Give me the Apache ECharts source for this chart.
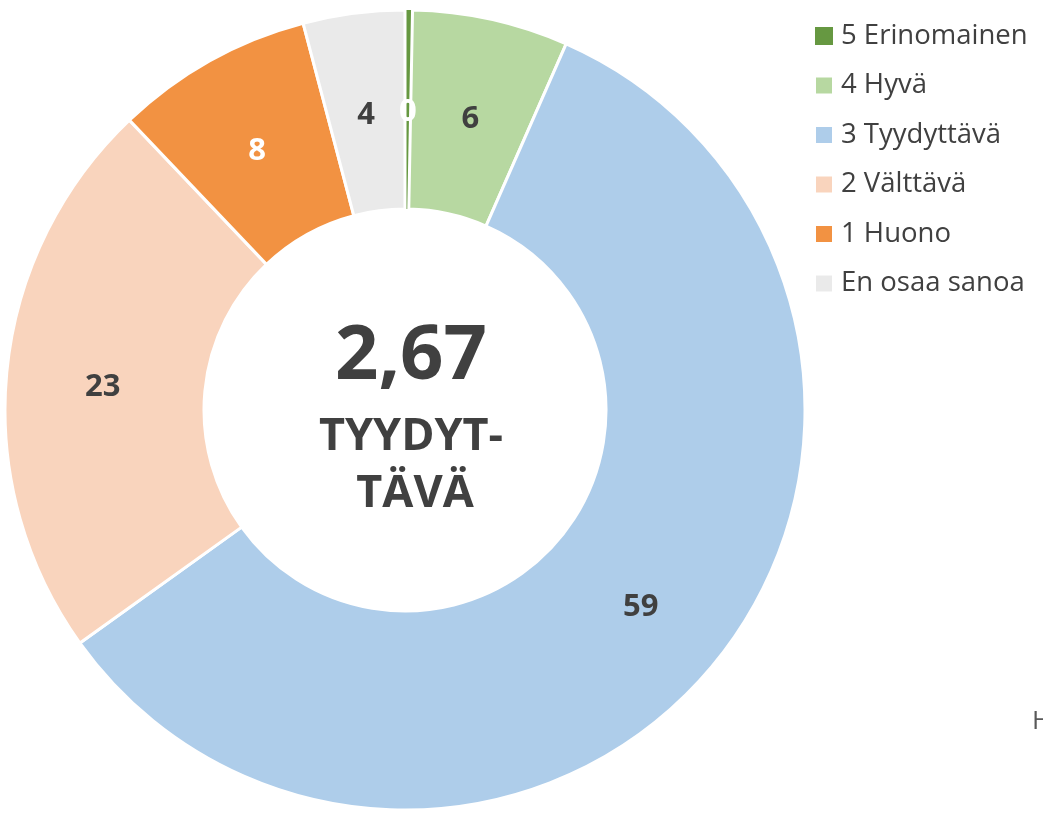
<!DOCTYPE html>
<html>
<head>
<meta charset="UTF-8">
<title>Arvosanat</title>
<script src="https://cdn.jsdelivr.net/npm/echarts@6/dist/echarts.min.js"></script>
<style>
  html, body { margin: 0; padding: 0; background: #fff; }
  #main { width: 1043px; height: 814px; }
</style>
</head>
<body>
<div id="main"></div>
<script>
// luokat ja osuudet (%), luettu kuvasta
var categories = ['5 Erinomainen', '4 Hyvä', '3 Tyydyttävä', '2 Välttävä', '1 Huono', 'En osaa sanoa'];
var values = [0.3, 6.3, 58.5, 22.8, 8.0, 4.1];
var colors = ['#669841', '#B7D8A1', '#AECDEA', '#F9D4BD', '#F29242', '#EAEAEA'];
var labelColors = ['#ffffff', '#404040', '#404040', '#404040', '#ffffff', '#404040'];
var average = '2,67';
var averageText = ['TYYDYT-', 'TÄVÄ'];

var font = '"Open Sans", "Noto Sans", sans-serif';
var dark = '#404040';

var pieData = categories.map(function (name, i) {
  return {
    name: name,
    value: values[i],
    itemStyle: { color: colors[i], borderWidth: i === 0 ? 0 : 3 },
    label: { color: labelColors[i] }
  };
});

var chart = echarts.init(document.getElementById('main'));
chart.setOption({
  animation: false,
  legend: {
    orient: 'vertical',
    left: 814,
    top: 21,
    padding: 0,
    icon: 'rect',
    itemWidth: 18,
    itemHeight: 18,
    itemGap: 19.5,
    selectedMode: false,
    textStyle: { fontFamily: font, fontSize: 27.5, color: '#404040', lineHeight: 30, padding: [0, 0, 0, 3] },
    data: categories
  },
  graphic: [
    { type: 'text', x: 411, y: 357, style: { text: average, fontFamily: font, fontWeight: 'bold', fontSize: 76, fill: dark, textAlign: 'center', textVerticalAlign: 'middle' } },
    { type: 'text', x: 411, y: 437, style: { text: averageText[0], fontFamily: font, fontWeight: 'bold', fontSize: 45, fill: dark, textAlign: 'center', textVerticalAlign: 'middle' } },
    { type: 'text', x: 415, y: 494, style: { text: averageText[1], fontFamily: font, fontWeight: 'bold', fontSize: 45, fill: dark, textAlign: 'center', textVerticalAlign: 'middle' } },
    { type: 'text', x: 1032, y: 722, style: { text: 'H', fontFamily: font, fontSize: 26, fill: '#595959', textVerticalAlign: 'middle' } }
  ],
  series: [{
    type: 'pie',
    center: [405, 410],
    radius: [201, 400],
    startAngle: 90,
    clockwise: true,
    avoidLabelOverlap: false,
    itemStyle: { borderColor: '#ffffff', borderWidth: 3 },
    label: {
      show: true,
      position: 'inside',
      fontFamily: font,
      fontWeight: 'bold',
      fontSize: 31,
      offset: [0, 6],
      textBorderWidth: 0,
      formatter: function (p) { return Math.round(p.value); }
    },
    labelLine: { show: false },
    emphasis: { disabled: true },
    data: pieData
  }]
});
</script>
</body>
</html>
